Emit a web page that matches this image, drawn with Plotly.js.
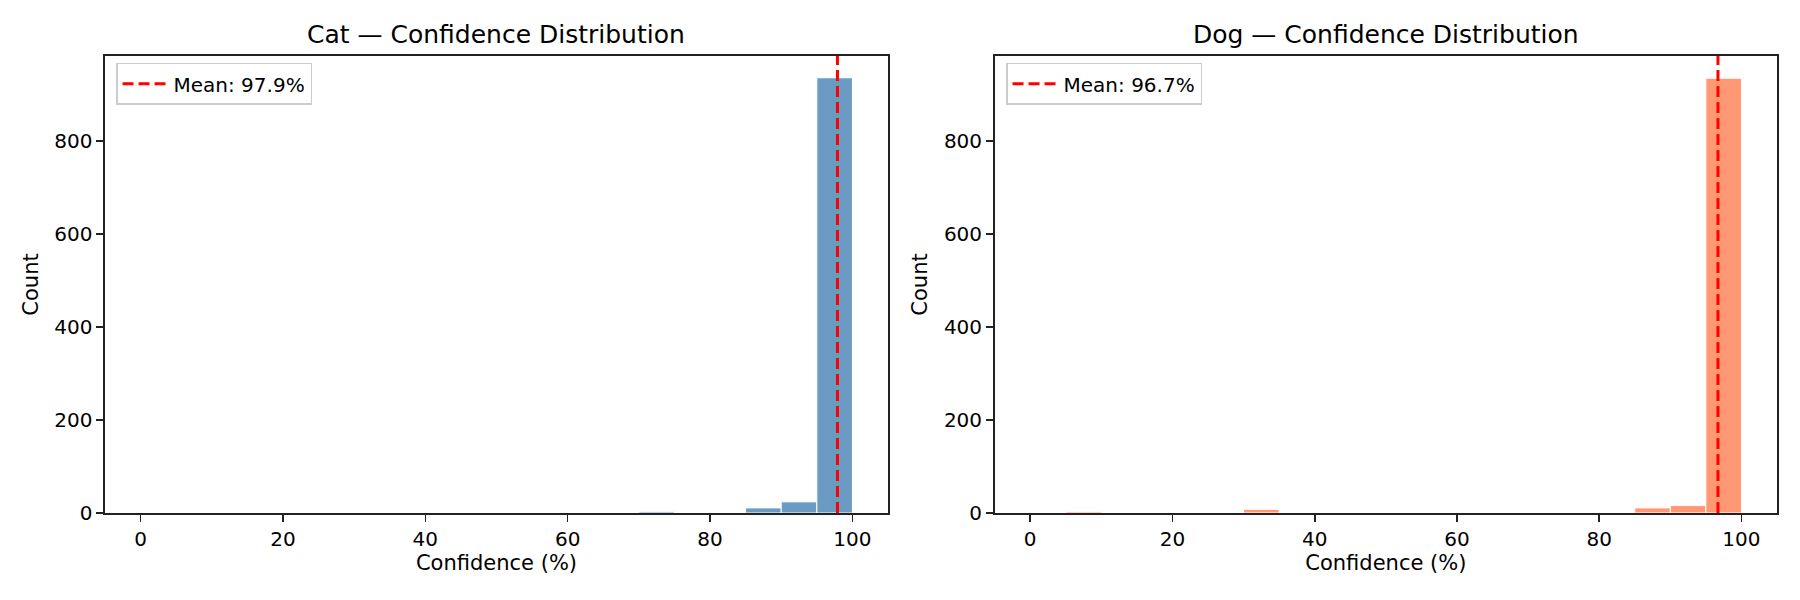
<!DOCTYPE html>
<html>
<head>
<meta charset="utf-8">
<script src="https://cdn.plot.ly/plotly-3.0.1.min.js"></script>
<style>
  body { margin: 0; background: white; }
  #chart { width: 1800px; height: 600px; }
</style>
</head>
<body>
<div id="chart"></div>
<script>
// histogram bins, 5% wide
const binStarts = [0, 5, 10, 15, 20, 25, 30, 35, 40, 45, 50, 55, 60, 65, 70, 75, 80, 85, 90, 95];
const binWidth = 5;
const catCounts = [0, 0, 0, 0, 0, 0, 0, 0, 0, 0, 1, 0, 0, 1, 3, 0, 1, 11, 24, 936];
const dogCounts = [1, 3, 1, 0, 0, 1, 8, 1, 0, 0, 0, 1, 0, 0, 1, 0, 1, 11, 16, 935];
const catMean = 97.9;
const dogMean = 96.7;
const xTicks = [0, 20, 40, 60, 80, 100];
const yTicks = [0, 200, 400, 600, 800];

const font = "DejaVu Sans, sans-serif";
const centers = binStarts.map(b => b + binWidth / 2);
const yTop = Math.max(...catCounts, ...dogCounts) * 1.05;

function bars(counts, color, xa, ya) {
    return {
        type: 'bar',
        x: centers,
        y: counts,
        width: binWidth,
        xaxis: xa, yaxis: ya,
        marker: { color: color, line: { color: 'white', width: 1 } },
        showlegend: false,
        hoverinfo: 'x+y'
    };
}

function meanLine(m, xa, ya, leg) {
    return {
        type: 'scatter', mode: 'lines',
        x: [m, m], y: [0, yTop],
        xaxis: xa, yaxis: ya,
        line: { color: 'red', width: 3, dash: '11px,5px' },
        name: 'Mean: ' + m.toFixed(1) + '%',
        legend: leg
    };
}

const data = [
    bars(catCounts, 'rgba(70,130,180,0.8)', 'x', 'y'),
    bars(dogCounts, 'rgba(255,127,80,0.8)', 'x2', 'y2'),
    meanLine(catMean, 'x', 'y', 'legend'),
    meanLine(dogMean, 'x2', 'y2', 'legend2')
];

function xAxis(dom, anchor) {
    return {
        domain: dom, anchor: anchor,
        range: [-5, 105],
        tickvals: xTicks,
        ticks: 'outside', ticklen: 7, tickwidth: 1.6, tickcolor: '#222',
        showline: true, mirror: true, linecolor: '#222', linewidth: 1.6,
        showgrid: false, zeroline: false,
        tickfont: { family: font, size: 20, color: 'black' },
        title: { text: 'Confidence (%)', font: { family: font, size: 21, color: 'black' }, standoff: 4 }
    };
}

function yAxis(anchor) {
    return {
        anchor: anchor,
        range: [0, yTop],
        tickvals: yTicks,
        ticks: 'outside', ticklen: 7, tickwidth: 1.6, tickcolor: '#222',
        showline: true, mirror: true, linecolor: '#222', linewidth: 1.6,
        showgrid: false, zeroline: false,
        tickfont: { family: font, size: 20, color: 'black' },
        title: { text: 'Count', font: { family: font, size: 21, color: 'black' }, standoff: 10 }
    };
}

const legendStyle = {
    y: 0.985, yanchor: 'top', xanchor: 'left',
    itemwidth: 46,
    bgcolor: 'rgba(255,255,255,0.8)', bordercolor: '#cccccc', borderwidth: 1.5,
    font: { family: font, size: 20, color: 'black' }
};

const leftDom = [0, 0.4683];
const rightDom = [0.5321, 1];

const layout = {
    width: 1800, height: 600,
    margin: { l: 105, r: 23, t: 56, b: 87 },
    paper_bgcolor: 'white', plot_bgcolor: 'white',
    barmode: 'overlay',
    xaxis: xAxis(leftDom, 'y'),
    yaxis: yAxis('x'),
    xaxis2: xAxis(rightDom, 'y2'),
    yaxis2: yAxis('x2'),
    legend: Object.assign({ x: 0.0066 }, legendStyle),
    legend2: Object.assign({ x: 0.5389 }, legendStyle),
    annotations: [
        { text: 'Cat — Confidence Distribution', x: (leftDom[0] + leftDom[1]) / 2 },
        { text: 'Dog — Confidence Distribution', x: (rightDom[0] + rightDom[1]) / 2 }
    ].map(a => Object.assign(a, {
        xref: 'paper', yref: 'paper', y: 1, xanchor: 'center', yanchor: 'bottom', yshift: 5,
        showarrow: false, font: { family: font, size: 25, color: 'black' }
    }))
};

Plotly.newPlot('chart', data, layout, { displayModeBar: false, staticPlot: true });
</script>
</body>
</html>
